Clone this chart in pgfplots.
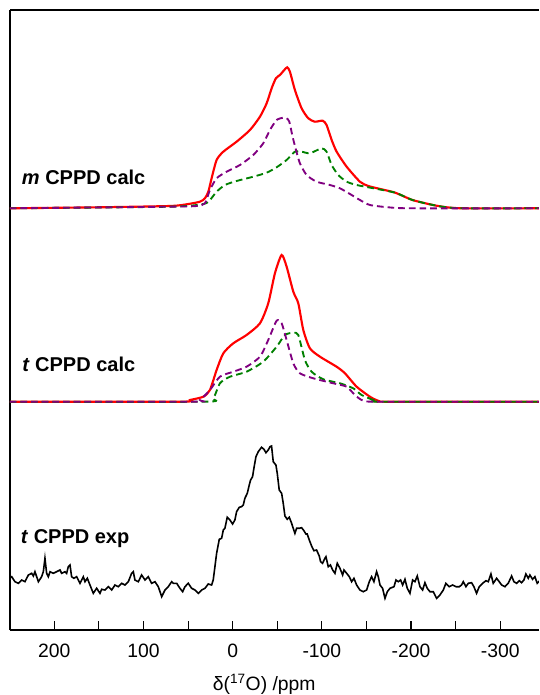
\documentclass[border=0pt]{standalone}
\usepackage{pgfplots}
\pgfplotsset{compat=1.18}
\usepackage{fontspec}
\setmainfont{Liberation Sans}
\definecolor{cred}{RGB}{255,0,0}
\definecolor{cpurple}{RGB}{128,0,128}
\definecolor{cgreen}{RGB}{0,128,0}
\begin{document}
\begin{tikzpicture}
\useasboundingbox (-7.5pt,-48.75pt) rectangle (396.75pt,472.5pt);
\begin{axis}[
  at={(0,0)}, anchor=south west,
  scale only axis, width=396.75pt, height=465pt,
  x dir=reverse, xmin=-343.5, xmax=249.7,
  ymin=0, ymax=620,
  axis x line=box, axis y line=left,
  every outer y axis line/.append style={-},
  every inner y axis line/.append style={-},
  y axis line style={-},
  x axis line style={-},
  axis line style={line width=1.1pt, black},
  ytick=\empty,
  xtick={200,100,0,-100,-200,-300},
  xticklabels={200,100,0,-100,-200,-300},
  minor xtick={150,50,-50,-150,-250,-350},
  xtick pos=bottom, tick align=inside,
  major tick length=7pt, minor tick length=7pt,
  every tick/.style={black, line width=0.8pt},
  ticklabel style={font=\fontsize{14.5}{16}\selectfont},
  xticklabel style={yshift=-7pt},
  xlabel={δ(\textsuperscript{17}O) /ppm},
  xlabel style={font=\fontsize{14.5}{16}\selectfont, at={(axis description cs:0.4805,0)}, anchor=base, yshift=-45pt},
  clip=true,
]
% m CPPD calc (offset 421.7)
\addplot[cred, line width=1.6pt, smooth, tension=0.4] table[y expr=\thisrowno{1}+421.7] {
250 0
150 1
70.3 2.3
51.6 4
36.7 6.6
31.1 10
27.3 16.6
23.6 30
18.0 48.3
10.5 56.6
-4.4 66.6
-19.4 78.3
-30.6 91.6
-38.1 105
-43.7 120
-48.5 130
-53.0 133.3
-57.9 138.3
-61.2 141
-64.2 136.6
-69.8 118.3
-77.3 100
-84.8 90
-92.3 86.6
-100.9 87.6
-105.3 83.3
-111.0 68.3
-116.6 56.6
-127.8 41.6
-142.7 26.6
-152.1 22.3
-166.9 19
-182.3 15.6
-201.6 8.3
-224.6 3.3
-240.1 1
-259.4 0
-345 0
};
\addplot[cgreen, line width=1.4pt, dash pattern=on 5pt off 3pt, smooth, tension=0.4] table[y expr=\thisrowno{1}+421.7] {
250 0
70.3 1.6
32.9 4.3
25.5 8.3
18.0 16.6
8.6 23.3
-4.4 27.3
-23.1 31.6
-38.1 35.6
-49.3 41
-60.5 48.3
-69.8 56.6
-77.3 56.6
-86.7 55
-99.7 60
-105.3 56.6
-111.0 43.3
-118.4 33.3
-127.8 26.6
-139.0 23.3
-152.1 21
-182.3 15.6
-201.6 8.3
-224.6 3.3
-240.1 1
-259.4 0
-345 0
};
\addplot[cpurple, line width=1.4pt, dash pattern=on 5pt off 3pt, smooth, tension=0.4] table[y expr=\thisrowno{1}+421.7] {
250 0
70.3 1.6
40.4 2.3
31.1 5
25.5 18.3
18.0 30
6.8 36.6
-8.2 43.3
-23.1 53.3
-34.3 65
-41.8 78.3
-49.3 88.3
-56.8 90.6
-60.5 90
-63.5 86.6
-67.2 71.6
-71.0 58.3
-75.4 45
-82.9 33.3
-94.1 26.6
-109.1 23.3
-120.3 20
-131.5 14.3
-142.7 8.3
-153.9 3.3
-174.6 1
-200 0
-345 0
};
% t CPPD calc (offset 228.3)
\addplot[cred, line width=1.6pt, smooth, tension=0.4] table[y expr=\thisrowno{1}+228.3] {
250 0
59.1 0
47.9 1.7
32.9 5
25.5 11.7
18.0 31.7
10.5 48.4
-0.7 58.4
-15.6 66.7
-30.6 78.4
-39.9 98.4
-47.4 128.4
-54.9 146.7
-60.5 135
-68.0 110
-73.6 98.4
-79.2 71.7
-86.6 53.4
-97.9 45
-116.5 35
-125.9 28.4
-139.0 15
-153.9 5
-163 1
-172 0
-345 0
};
\addplot[cgreen, line width=1.4pt, dash pattern=on 5pt off 3pt, smooth, tension=0.4] table[y expr=\thisrowno{1}+228.3] {
250 0
32.9 0
21.7 3.4
14.3 18.4
3.0 25
-15.6 30
-34.3 40
-49.3 55
-58.6 66.7
-68.0 69
-73.6 66.7
-81.0 41.7
-88.5 30
-101.6 22.4
-120.3 18.4
-135.2 13.4
-144.6 6.7
-157.7 1.7
-165.1 0
-345 0
};
\addplot[cpurple, line width=1.4pt, dash pattern=on 5pt off 3pt, smooth, tension=0.4] table[y expr=\thisrowno{1}+228.3] {
250 0
45 0
36.7 1.7
25.5 11.7
14.3 25
-0.7 30
-15.6 35
-30.6 45
-39.9 61.7
-49.3 81
-54.9 78.4
-60.5 61.7
-68.0 38.4
-75.4 28.4
-90.4 23.4
-112.8 18.4
-127.8 15
-137.1 6.7
-146.4 1
-165.1 0
-345 0
};
% t CPPD exp
\addplot[black, line width=1.2pt] table {
249.7 52
247.8 53.3
244.1 48.3
240.3 46.7
236.6 50
232.9 48.3
229.1 55
225.4 56.7
223.5 54
221.7 58.3
217.9 48.3
214.2 53.3
212.3 58.3
210.5 71.7
208.6 56.7
206.7 53.3
204.8 58.3
201.1 56.7
197.4 58.3
193.6 60
191.8 56.7
188.0 58.3
186.2 56.7
184.3 63.3
182.4 65
180.6 53.3
178.0 51.7
175.0 53.3
171.2 46.7
167.5 53.3
165.6 48.3
163.0 51.7
160.0 45
156.3 36.7
152.5 41.7
148.8 36.7
146.9 40.7
143.2 40
139.4 43.3
135.7 40
132.0 45
128.2 43.3
124.5 46.7
120.8 45
117.0 48.3
113.3 56.7
111.4 58.3
109.6 50
105.8 48.3
102.1 55
98.3 50
94.6 53.3
90.9 46.7
87.1 48.3
83.4 43.3
79.6 33.3
75.9 40
72.2 43.3
68.4 48.3
66.6 46.7
62.8 46.7
59.1 41.7
56.1 38.3
53.5 43.3
49.8 46.7
46.0 41.7
42.3 40
38.5 36.7
34.8 40
31.1 41.7
27.4 46
23.6 45
21.8 50
19.9 63.3
18.0 76.7
15.0 90.7
12.4 91.7
10.5 100
8.7 101.7
6.1 112.7
3.1 110
0.1 106
-2.5 110
-4.4 118.3
-7.4 122.7
-10.0 123.3
-11.9 125
-13.7 131.7
-16.4 136.7
-18.6 145
-20.1 150
-22.3 153.3
-23.8 161.7
-26.1 173.3
-28.7 178.3
-32.4 182.7
-35.1 180.7
-37.3 177.3
-39.9 180
-41.8 183.3
-43.6 184
-45.5 168.3
-48.5 165
-50.0 156.7
-52.2 140
-54.9 136.7
-56.7 126.7
-58.6 114
-61.2 110.7
-63.5 112.7
-66.1 106.7
-67.9 101.7
-69.8 96.7
-71.7 101.7
-74.7 101.7
-77.3 102.3
-79.9 99.3
-82.1 96
-83.6 96
-85.9 90
-88.5 84
-91.1 79.3
-94.1 80
-97.1 74
-98.6 68.3
-100.8 66.7
-103.4 71.7
-104.6 73.3
-107.2 63.3
-109.6 65
-112.1 60
-114.7 56.7
-117.3 66.7
-120.3 61.7
-123.3 55
-124.8 60
-127.8 56.7
-130.8 53.3
-133.4 48.3
-136.0 51.7
-139.0 45
-142.7 40
-146.5 38.3
-150.2 40
-153.2 48.3
-155.8 53.3
-158.4 48.3
-161.4 58.3
-163.3 53.3
-165.2 45
-168.1 41.7
-170.8 31.7
-173.4 38.3
-176.4 41.7
-180.9 43.3
-183.1 50
-185.7 48.3
-188.3 50
-190.6 45
-193.2 50.7
-195.8 41.7
-198.8 36.7
-201.8 50
-204.4 48.3
-207.0 54
-210.0 43.3
-213.0 40
-215.6 47.3
-218.2 41.7
-221.2 38.3
-225.0 38.3
-228.7 31.7
-232.4 35
-236.2 40
-239.1 46.7
-242.9 43.3
-246.6 45
-250.4 43.3
-254.1 43.3
-256.7 45
-258.6 48.3
-261.6 43.3
-264.2 46.7
-267.9 47.3
-270.5 43.3
-273.5 36.7
-276.5 43.3
-280.3 46.7
-284.0 49.3
-286.6 48.3
-289.6 56
-292.2 46.7
-296.0 51.7
-298.9 48.3
-301.6 45
-305.3 43.3
-309.0 46.7
-312.8 54
-315.4 48.3
-318.4 46.7
-321.4 49.3
-324.0 47.3
-326.6 50
-328.8 56
-331.5 51.7
-333.3 55
-336.3 50.7
-338.9 53.3
-341.5 46.7
-345 50
};
\node[anchor=base west, inner sep=0pt, font=\fontsize{15}{17}\selectfont\bfseries] at (axis cs:236.6,445) {\textit{m} CPPD calc};
\node[anchor=base west, inner sep=0pt, font=\fontsize{15}{17}\selectfont\bfseries] at (axis cs:236.2,258) {\textit{t} CPPD calc};
\node[anchor=base west, inner sep=0pt, font=\fontsize{15}{17}\selectfont\bfseries] at (axis cs:237.8,86.7) {\textit{t} CPPD exp};
\end{axis}
\end{tikzpicture}
\end{document}
